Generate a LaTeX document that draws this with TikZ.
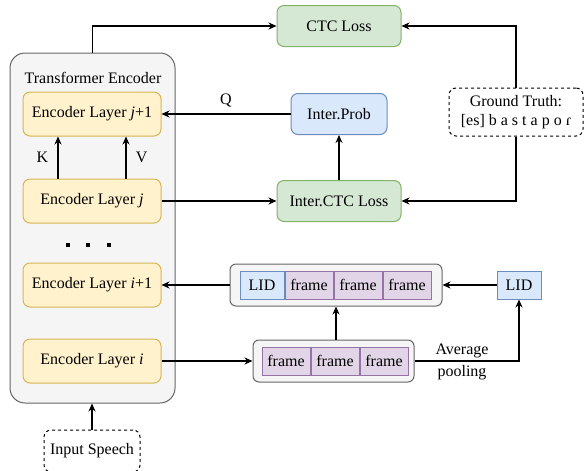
\documentclass[tikz,border=0pt]{standalone}
\usepackage{fontspec}
\setmainfont{Liberation Serif}
\usepackage{xcolor}
\usetikzlibrary{arrows.meta,positioning}

\definecolor{encfill}{HTML}{F5F5F5}
\definecolor{encdraw}{HTML}{666666}
\definecolor{layfill}{HTML}{FFF2CC}
\definecolor{laydraw}{HTML}{D6B656}
\definecolor{lossfill}{HTML}{D5E8D4}
\definecolor{lossdraw}{HTML}{82B366}
\definecolor{probfill}{HTML}{DAE8FC}
\definecolor{probdraw}{HTML}{6C8EBF}
\definecolor{framefill}{HTML}{E1D5E7}
\definecolor{framedraw}{HTML}{9673A6}

\tikzset{
    layer/.style={draw=laydraw, fill=layfill, line width=1pt, rounded corners=7pt, minimum width=138pt, minimum height=44pt},
    loss/.style={draw=lossdraw, fill=lossfill, line width=1pt, rounded corners=7pt, minimum width=124pt, minimum height=41pt},
    prob/.style={draw=probdraw, fill=probfill, line width=1pt, rounded corners=7pt, minimum width=96pt, minimum height=41pt},
    group/.style={draw=encdraw, fill=encfill, line width=1pt, rounded corners=6pt, minimum height=42pt},
    framecell/.style={draw=framedraw, fill=framefill, line width=1pt, minimum width=48pt, minimum height=28pt, inner sep=0pt},
    lidcell/.style={draw=probdraw, fill=probfill, line width=1pt, minimum width=44pt, minimum height=28pt, inner sep=0pt},
    dashbox/.style={draw, dashed, line width=1pt, rounded corners=7pt},
    arr/.style={-{Stealth[length=8pt,width=7pt]}, line width=1.2pt}
}

\begin{document}
\begin{tikzpicture}[x=1pt, y=-1pt, font=\fontsize{16}{22}\selectfont]
    \useasboundingbox (0,0) rectangle (584,471);

    % Encoder block
    \node[draw=encdraw, fill=encfill, line width=1pt, rounded corners=15pt, minimum width=165pt, minimum height=350pt] (enc) at (92.5,228) {};
    \node (title) at (93,78) {Transformer Encoder};
    \node[layer] (lj1) at (92,114) {Encoder Layer \textit{j}+1};
    \node[layer] (lj) at (92,201) {Encoder Layer \textit{j}};
    \node[layer] (li1) at (92,285) {Encoder Layer \textit{i}+1};
    \node[layer] (li) at (92,361) {Encoder Layer \textit{i}};
    \foreach \x in {68,88,109}
        \fill (\x-2.2,242.8) rectangle (\x+2.2,247.2);

    % K and V
    \draw[arr] (lj.north -| 58,0) -- (lj1.south -| 58,0) node[midway, left=6pt] {K};
    \draw[arr] (lj.north -| 126,0) -- (lj1.south -| 126,0) node[midway, right=6pt] {V};

    % Input
    \node[dashbox, minimum width=96pt, minimum height=42pt] (input) at (92,451) {Input Speech};
    \draw[arr] (input) -- (enc.south -| input);

    % Losses
    \node[loss] (ctc) at (339,26) {CTC Loss};
    \node[prob] (prob) at (339,114) {Inter.Prob};
    \node[loss] (ictc) at (339,201) {Inter.CTC Loss};
    \node[dashbox, align=center, minimum width=134pt, minimum height=48pt, inner sep=2pt] (gt) at (516,112) {Ground Truth:\\[-3pt][es] b a s t a p o ɾ};

    \draw[arr] (enc.north) |- (ctc.west);
    \draw[arr] (prob.west) -- (lj1.east) node[midway, above=3pt] {Q};
    \draw[arr] (lj.east) -- (ictc.west);
    \draw[arr] (ictc) -- (prob);
    \draw[arr] (gt.north) |- (ctc.east);
    \draw[arr] (gt.south) |- (ictc.east);

    % LID branch
    \node[group, minimum width=212pt] (lidrow) at (336,285) {};
    \node[lidcell] (l0) at (262,285) {LID};
    \node[framecell, right=0pt of l0] (f1) {frame};
    \node[framecell, right=0pt of f1] (f2) {frame};
    \node[framecell, right=0pt of f2] (f3) {frame};

    \node[group, minimum width=161pt] (framerow) at (333.5,361) {};
    \node[framecell] (g1) at (286,361) {frame};
    \node[framecell, right=0pt of g1] (g2) {frame};
    \node[framecell, right=0pt of g2] (g3) {frame};

    \node[lidcell] (lid) at (519,285) {LID};

    \draw[arr] (lidrow.west) -- (li1.east);
    \draw[arr] (li.east) -- (framerow.west);
    \draw[arr] (framerow.north -| 336,0) -- (lidrow.south -| 336,0);
    \draw[arr] (lid.west) -- (lidrow.east);
    \draw[arr] (framerow.east) -| (lid.south);
    \node[align=center] (pool) at (462,362) {Average\\pooling};
\end{tikzpicture}
\end{document}
